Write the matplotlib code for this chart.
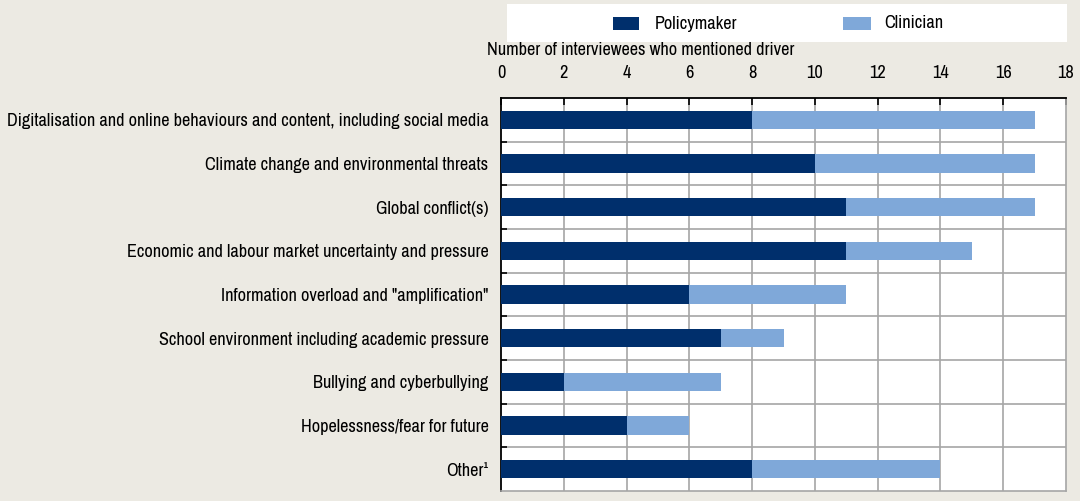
import matplotlib
matplotlib.use("Agg")
import matplotlib.pyplot as plt
from matplotlib import font_manager
from matplotlib.patches import Rectangle

names = set(f.name for f in font_manager.fontManager.ttflist)
main = next((n for n in ['Arial Narrow', 'Liberation Sans Narrow', 'Archivo Narrow', 'Roboto Condensed'] if n in names), 'DejaVu Sans')
plt.rcParams['font.family'] = [main, 'DejaVu Sans']

categories = [
    "Digitalisation and online behaviours and content, including social media",
    "Climate change and environmental threats",
    "Global conflict(s)",
    "Economic and labour market uncertainty and pressure",
    "Information overload and \"amplification\"",
    "School environment including academic pressure",
    "Bullying and cyberbullying",
    "Hopelessness/fear for future",
    "Other\u00b9",
]
policymaker = [8, 10, 11, 11, 6, 7, 2, 4, 8]
clinician = [9, 7, 6, 4, 5, 2, 5, 2, 6]
xticks = [0, 2, 4, 6, 8, 10, 12, 14, 16, 18]
series_names = ["Policymaker", "Clinician"]

bg = '#ECEAE3'
dark = '#002F6C'
light = '#7FA8D9'
grid = '#A6A6A6'

W, H = 1080, 501
fig = plt.figure(figsize=(W/100, H/100), dpi=100, facecolor=bg)

# fit font size so the longest label spans like the reference (~484 px)
probe = fig.text(0, 0, categories[0], fontsize=13)
fig.canvas.draw()
w = probe.get_window_extent().width
probe.remove()
fs = 13 * 484 / w

ax = fig.add_axes([501/W, 1 - 491/H, (1066-501)/W, (491-98)/H])
ax.set_facecolor('white')

y = list(range(len(categories)))
ax.barh(y, policymaker, height=0.42, color=dark, zorder=3)
ax.barh(y, clinician, left=policymaker, height=0.42, color=light, zorder=3)

ax.set_xlim(0, 18)
ax.set_ylim(len(categories) - 0.5, -0.5)
ax.set_xticks(xticks)
ax.xaxis.tick_top()
ax.tick_params(axis='x', direction='in', length=5, width=1.2, color='black', labelsize=fs, pad=12)
ax.set_yticks(y)
ax.set_yticklabels(categories, fontsize=fs)
ax.tick_params(axis='y', length=0, pad=9)
ax.set_yticks([i + 0.5 for i in range(len(categories) - 1)], minor=True)
ax.tick_params(axis='y', which='minor', direction='in', length=4, width=1.2, color='black')

for xv in xticks[1:-1]:
    ax.axvline(xv, color=grid, lw=1.2, zorder=1)
for i in range(len(categories) - 1):
    ax.axhline(i + 0.5, color=grid, lw=1.2, zorder=1)

for s in ['top', 'left']:
    ax.spines[s].set_color('black')
    ax.spines[s].set_linewidth(1.3)
for s in ['right', 'bottom']:
    ax.spines[s].set_color(grid)
    ax.spines[s].set_linewidth(1.2)

fig.text(487/W, 1 - 50/H, "Number of interviewees who mentioned driver", fontsize=fs, va='center', ha='left')

# legend box with manually placed entries
fig.patches.append(Rectangle((507/W, 1 - 42/H), (1067-507)/W, 38/H,
                             transform=fig.transFigure, facecolor='white', edgecolor='none'))
for (px0, px1, tx), col, lab in zip([(613, 639, 655), (843, 871, 884)], [dark, light], series_names):
    fig.patches.append(Rectangle((px0/W, 1 - 30/H), (px1-px0)/W, 13/H,
                                 transform=fig.transFigure, facecolor=col, edgecolor='none'))
    fig.text(tx/W, 1 - 23.5/H, lab, fontsize=fs, va='center', ha='left')

fig.savefig('out.png', dpi=100, facecolor=bg)
